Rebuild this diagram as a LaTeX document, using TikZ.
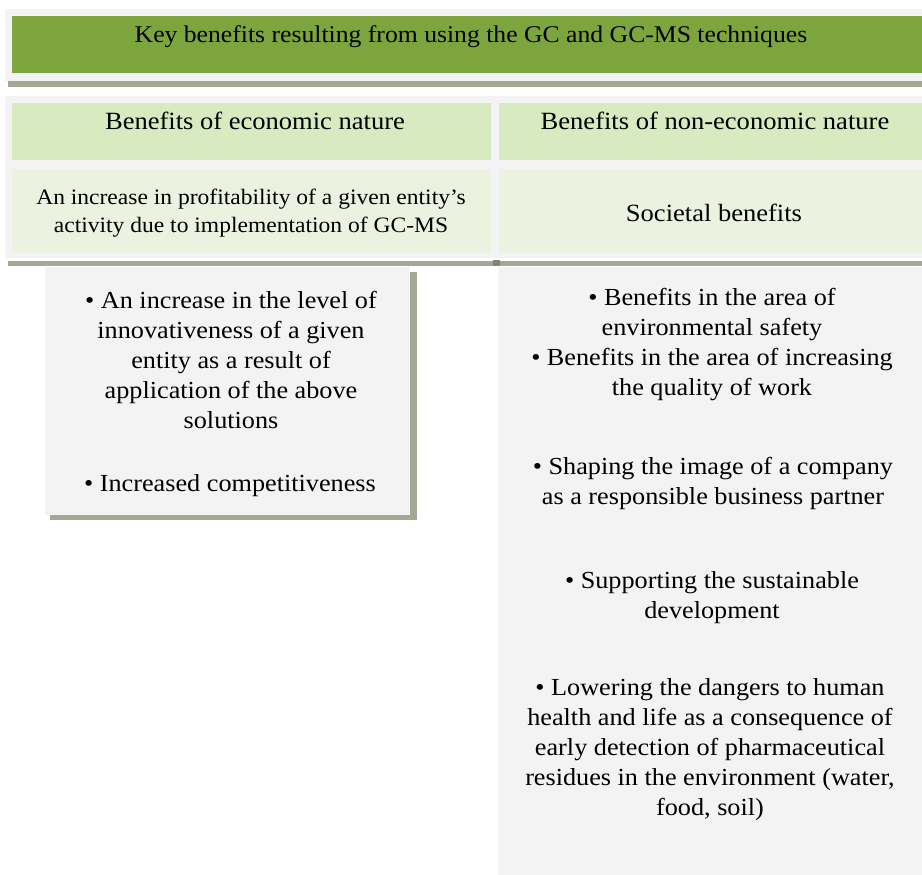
\documentclass[tikz,border=0pt]{standalone}
\usepackage{fontspec}
\setmainfont[FakeStretch=1.07]{Liberation Serif}
\usetikzlibrary{positioning}

\definecolor{hdgreen}{HTML}{7DA53E}
\definecolor{colgreen}{HTML}{D8EBC0}
\definecolor{rowgreen}{HTML}{EBF3E0}
\definecolor{panelgrey}{HTML}{F3F3F3}
\definecolor{shadowgrey}{HTML}{A1A994}
\definecolor{notchgrey}{HTML}{7E8772}

\tikzset{
  txt/.style={align=center, font=\fontsize{24.5}{30}\selectfont, inner sep=0pt},
  titletxt/.style={txt, font=\fontsize{24}{30}\selectfont},
  headtxt/.style={txt, font=\fontsize{24.8}{30}\selectfont},
  rowtxt/.style={txt, font=\fontsize{22}{28}\selectfont},
}

\begin{document}
\begin{tikzpicture}[x=1pt,y=-1pt]
\useasboundingbox (0,0) rectangle (922,875);

% title band
\fill[panelgrey] (5,9) rectangle (922,81);
\fill[hdgreen] (12,16) rectangle (922,73);
\fill[shadowgrey] (8,81) rectangle (922,87);
\node[titletxt] (title) at (471,37) {Key benefits resulting from using the GC and GC-MS techniques};

% the two columns
\fill[panelgrey] (5,96) rectangle (922,258);
\fill[colgreen] (12,103) rectangle (491,160);
\fill[colgreen] (499,103) rectangle (922,160);
\fill[rowgreen] (12,169) rectangle (491,253);
\fill[rowgreen] (499,169) rectangle (922,253);
\fill[shadowgrey] (8,261) rectangle (922,266);
\fill[notchgrey] (493,260) rectangle (500,266);

\node[headtxt] (econ) at (255,121) {Benefits of economic nature};
\node[headtxt] (nonecon) at (715,121) {Benefits of non-economic nature};
\node[rowtxt] (profit) at (251,213) {An increase in profitability of a given entity’s\\activity due to implementation of GC-MS};
\node[headtxt] (societal) at (714,213) {Societal benefits};

% economic list
\fill[shadowgrey] (50,272) rectangle (417,520);
\fill[panelgrey] (45,267) rectangle (410,515);
\node[txt] (innov) at (231,360) {• An increase in the level of\\innovativeness of a given\\entity as a result of\\application of the above\\solutions};
\node[txt] (compet) at (230,486) {• Increased competitiveness};

% non-economic list
\fill[panelgrey] (498,267) rectangle (922,875);
\node[txt] (safety) at (712,345) {• Benefits in the area of\\environmental safety\\• Benefits in the area of increasing\\the quality of work};
\node[txt] (image) at (713,483) {• Shaping the image of a company\\as a responsible business partner};
\node[txt] (sustain) at (712,598) {• Supporting the sustainable\\development};
\node[txt] (health) at (710,750) {• Lowering the dangers to human\\health and life as a consequence of\\early detection of pharmaceutical\\residues in the environment (water,\\food, soil)};
\end{tikzpicture}
\end{document}
